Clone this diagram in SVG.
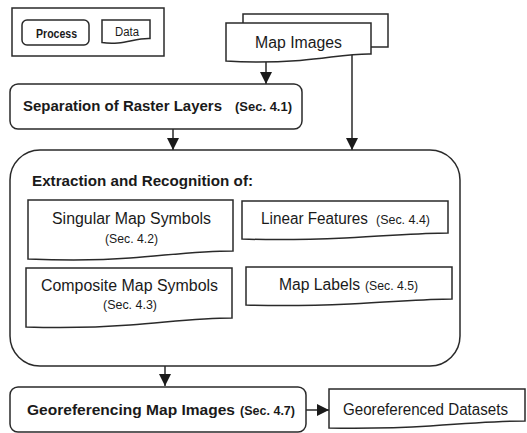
<svg xmlns="http://www.w3.org/2000/svg" width="527" height="433" viewBox="0 0 527 433">
<style>
.s{fill:#fff;stroke:#2a2a2a;stroke-width:1.5}
.c{fill:none;stroke:#1a1a1a;stroke-width:1.4}
text{font-family:"Liberation Sans",Arial,sans-serif;fill:#1a1a1a}
.b{font-weight:bold}
.n{font-size:16px}
.t{font-size:15.5px;font-weight:bold}
.sm{font-size:13px}
.smb{font-size:13px;font-weight:bold}
</style>
<defs>
<marker id="ah" markerUnits="userSpaceOnUse" markerWidth="12" markerHeight="12" viewBox="0 0 12 12" refX="12" refY="6" orient="auto">
<path d="M0,0 L12,6 L0,12 Z" fill="#1a1a1a"/>
</marker>
</defs>
<rect width="527" height="433" fill="#fff"/>
<g id="legend">
<rect class="s" x="12" y="8" width="152" height="48"/>
<rect class="s" x="22" y="20" width="67" height="25" rx="5"/>
<text class="b" x="36" y="38" font-size="12" textLength="41" lengthAdjust="spacingAndGlyphs">Process</text>
<path class="s" d="M102,20 H150 V38.5 C138,38 130,42 118,43 C110,43.5 105,43 102,42.5 Z"/>
<text x="115" y="36" font-size="12" textLength="24" lengthAdjust="spacingAndGlyphs">Data</text>
</g>
<g id="connectors">
<path class="c" d="M266,62 V84" marker-end="url(#ah)"/>
<path class="c" d="M352,55 V150" marker-end="url(#ah)"/>
<path class="c" d="M173,129 V150" marker-end="url(#ah)"/>
<path class="c" d="M165,366 V386" marker-end="url(#ah)"/>
<path class="c" d="M306,410 H329" marker-end="url(#ah)"/>
</g>
<g id="map-images">
<rect class="s" x="243" y="14" width="145" height="33"/>
<path class="s" d="M226,23 H371 V54 C350,53.5 330,58 300,60.5 C270,62.5 240,62 226,61 Z"/>
<text class="n" x="255" y="48" textLength="87" lengthAdjust="spacingAndGlyphs">Map Images</text>
</g>
<g id="separation">
<rect class="s" x="10" y="84" width="292" height="45" rx="8"/>
<text class="t" x="23" y="111" textLength="199" lengthAdjust="spacingAndGlyphs">Separation of Raster Layers</text>
<text class="smb" x="235" y="111" textLength="57" lengthAdjust="spacingAndGlyphs">(Sec. 4.1)</text>
</g>
<g id="extraction">
<rect class="s" x="10" y="150" width="450" height="216" rx="30"/>
<text class="t" x="32" y="186" textLength="221" lengthAdjust="spacingAndGlyphs">Extraction and Recognition of:</text>
</g>
<g id="singular">
<path class="s" d="M28,200 H233 V251 C200,251 170,255 130,258 C90,261 55,260 28,259 Z"/>
<text class="n" x="52" y="224" textLength="159" lengthAdjust="spacingAndGlyphs">Singular Map Symbols</text>
<text class="sm" x="105" y="243" textLength="53" lengthAdjust="spacingAndGlyphs">(Sec. 4.2)</text>
</g>
<g id="linear">
<path class="s" d="M242,201 H448 V233 C420,233 390,236 345,238 C300,240 270,240 242,239 Z"/>
<text class="n" x="261" y="224" textLength="107" lengthAdjust="spacingAndGlyphs">Linear Features</text>
<text class="sm" x="376" y="224" textLength="54" lengthAdjust="spacingAndGlyphs">(Sec. 4.4)</text>
</g>
<g id="composite">
<path class="s" d="M26,268 H232 V318 C200,318 170,322 130,325 C90,328 55,328 26,327 Z"/>
<text class="n" x="41" y="291" textLength="177" lengthAdjust="spacingAndGlyphs">Composite Map Symbols</text>
<text class="sm" x="103" y="309" textLength="54" lengthAdjust="spacingAndGlyphs">(Sec. 4.3)</text>
</g>
<g id="map-labels">
<path class="s" d="M246,267 H452 V299 C425,299 395,302 350,304 C305,306 275,306 246,305 Z"/>
<text class="n" x="279" y="290" textLength="81" lengthAdjust="spacingAndGlyphs">Map Labels</text>
<text class="sm" x="365" y="290" textLength="53" lengthAdjust="spacingAndGlyphs">(Sec. 4.5)</text>
</g>
<g id="georeferencing">
<rect class="s" x="10" y="387" width="296" height="45" rx="8"/>
<text class="t" x="27" y="415" textLength="208" lengthAdjust="spacingAndGlyphs">Georeferencing Map Images</text>
<text class="smb" x="240" y="415" textLength="55" lengthAdjust="spacingAndGlyphs">(Sec. 4.7)</text>
</g>
<g id="datasets">
<path class="s" d="M329,389 H525 V421 C500,421 470,423 430,426 C390,428.5 360,428.5 329,428 Z"/>
<text class="n" x="343" y="415" textLength="165" lengthAdjust="spacingAndGlyphs">Georeferenced Datasets</text>
</g>
</svg>
